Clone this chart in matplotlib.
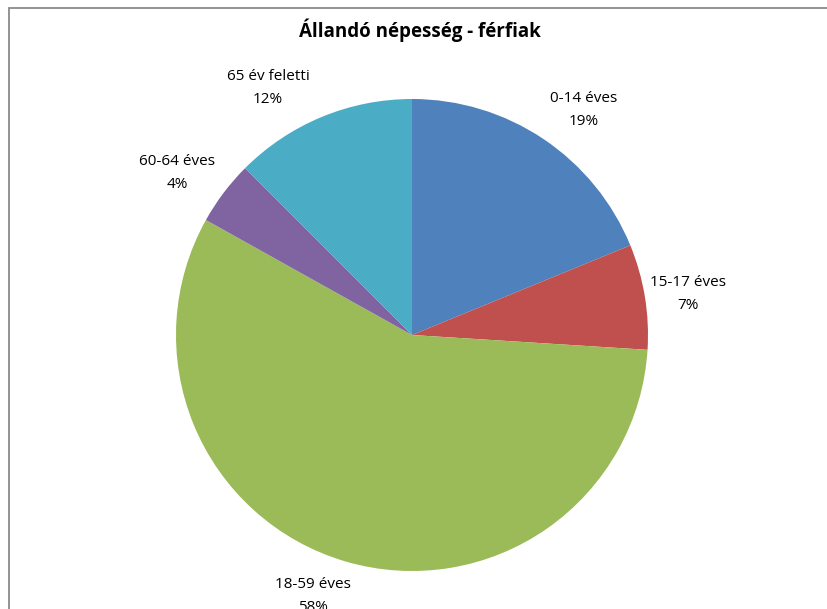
import matplotlib
matplotlib.use("Agg")
import matplotlib.pyplot as plt
from matplotlib.patches import Rectangle

title = "Állandó népesség - férfiak"
categories = ["0-14 éves", "15-17 éves", "18-59 éves", "60-64 éves", "65 év feletti"]
values = [18.8, 7.2, 57.1, 4.4, 12.5]
pct_labels = ["19%", "7%", "58%", "4%", "12%"]
colors = ["#4F81BD", "#C0504D", "#9BBB59", "#8064A2", "#4BACC6"]

W, H = 828, 609
cx, cy, R = 412, 335, 236  # pixel center and radius

fig = plt.figure(figsize=(W / 100, H / 100), dpi=100)
ax = fig.add_axes([0, 0, 1, 1])
ax.pie(values, colors=colors, startangle=90, counterclock=False,
       radius=1.0, center=(0, 0), wedgeprops=dict(linewidth=0))
ax.set_aspect("auto")
ax.set_xlim(-cx / R, (W - cx) / R)
ax.set_ylim(-(H - cy) / R, cy / R)
ax.axis("off")

# label anchor positions (pixel coords of label centers)
label_px = [(584, 110), (688, 294), (313, 596), (177, 173), (268, 88)]
font = ["Open Sans", "DejaVu Sans"]
for cat, pct, (px, py) in zip(categories, pct_labels, label_px):
    ax.text((px - cx) / R, (cy - py) / R, f"{cat}\n{pct}", ha="center", va="center",
            fontsize=11, family=font, linespacing=1.65, color="#000000")

fig.text(420 / W, 1 - 30 / H, title, ha="center", va="center", fontsize=13.5,
         fontweight="bold", family=font)

fig.patches.append(Rectangle((9 / W, -0.1), 1.2, 1 - 8 / H + 0.1, transform=fig.transFigure,
                             fill=False, edgecolor="#8a8a8a", linewidth=1.3, figure=fig))

fig.savefig("out.png", dpi=100)
